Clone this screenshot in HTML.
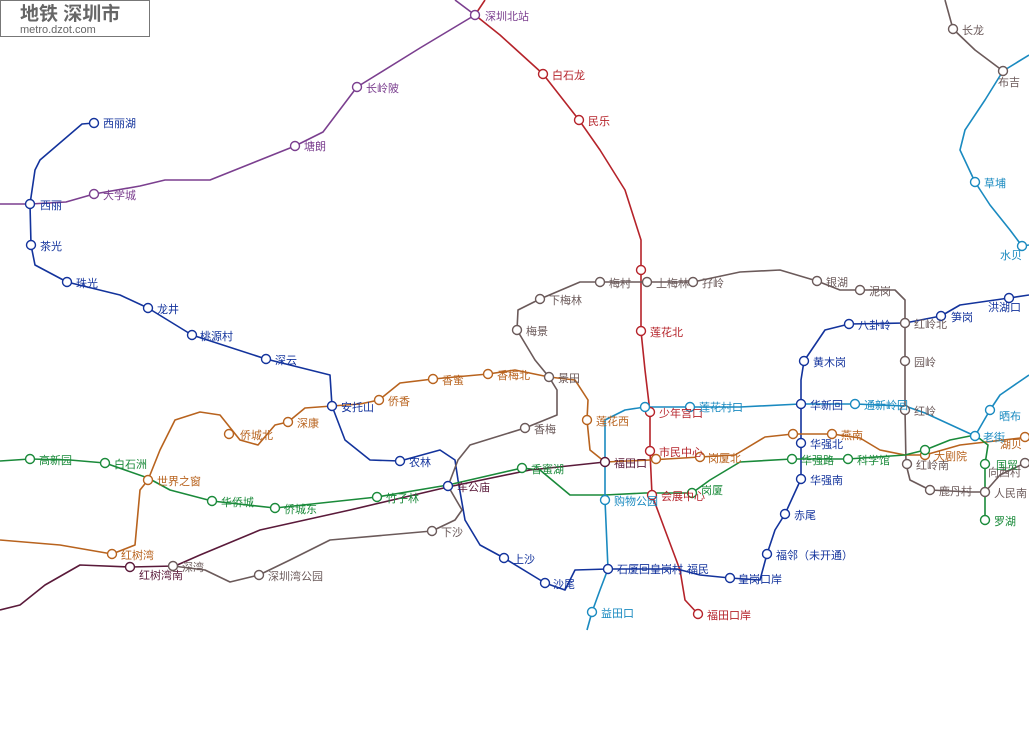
<!DOCTYPE html>
<html><head><meta charset="utf-8"><style>
body{margin:0;background:#fff;width:1029px;height:736px;overflow:hidden}
svg text{font-family:"Liberation Sans","Noto Sans CJK SC",sans-serif;font-size:11px}
</style></head><body>
<svg width="1029" height="736" xmlns="http://www.w3.org/2000/svg">
<rect x="0.5" y="0.5" width="149" height="36" fill="#fff" stroke="#777"/>
<text x="20" y="20" style="font-size:19px;font-weight:bold" fill="#666">地铁 深圳市</text>
<text x="20" y="33" style="font-size:11px" fill="#666">metro.dzot.com</text>
<g fill="none" stroke-width="1.6" stroke-linejoin="round">
<!-- purple -->
<polyline stroke="#7b3f8f" points="0,204 30,204 66,202 94,194 140,186 165,180 210,180 295,146 323,132 357,87 420,48 475,15 455,0"/>
<!-- red -->
<polyline stroke="#b5232a" points="485,0 475,15 500,35 543,74 579,120 600,150 625,190 641,240 641,270 641,331 645,370 650,412 650,451 652,495 665,530 680,570 685,600 698,614"/>
<!-- navy -->
<polyline stroke="#13339c" points="94,123 82,124 40,160 35,170 30,204 31,245 35,265 67,282 120,295 148,308 192,335 266,359 330,375 332,406 345,440 370,460 400,461 440,450 455,460 458,480 465,520 480,545 504,558 545,583 565,590 575,570 608,569 677,569 700,575 730,578 760,580 767,554 775,530 785,514 801,479 801,443 801,404 801,380 804,361 825,330 849,324 905,323"/>
<polyline stroke="#13339c" points="905,323 941,316 960,305 1009,298 1029,295"/>
<!-- grey -->
<polyline stroke="#6b5a5a" points="517,330 518,310 540,299 580,282 600,282 647,282 693,282 740,272 780,270 817,281 840,290 860,290 895,290 905,300 905,323 905,361 905,410 906,464 910,480 930,490 970,492 985,492 1000,475 1025,463"/>
<polyline stroke="#6b5a5a" points="517,330 535,360 549,377 557,390 557,415 525,428 470,445 458,460 448,486 462,510 455,520 432,531 330,540 290,560 259,575 230,582 205,570 173,566"/>
<!-- orange -->
<polyline stroke="#b8631e" points="0,540 60,545 112,554 135,545 140,490 148,480 160,450 175,420 200,412 220,415 240,440 258,445 275,425 288,422 305,408 332,406 360,404 379,400 400,383 433,379 488,374 515,370 549,377 575,380 588,400 587,420 590,450 605,462 650,460 700,457 735,455 765,437 793,434 832,434 860,438 880,450 905,455 925,455 960,445 1029,437"/>
<!-- green -->
<polyline stroke="#1a8a3a" points="0,461 30,459 70,460 105,463 148,478 170,490 212,501 275,508 377,497 448,485 522,468 540,470 570,495 605,495 645,493 692,493 710,480 740,462 792,459 848,459 905,455 925,450 950,440 975,435 988,445 985,464 985,520"/>
<!-- maroon -->
<polyline stroke="#5a1a3a" points="0,610 20,605 45,585 80,565 130,567 175,566 200,555 260,530 350,510 448,487 530,470 605,462"/>
<!-- cyan -->
<polyline stroke="#1a8ac0" points="587,630 592,612 600,590 608,569 605,500 605,420 625,410 645,407 690,407 740,407 800,404 855,404 905,406 925,413 975,436 990,410 1000,395 1029,375"/>
<polyline stroke="#1a8ac0" points="1029,55 1003,71 985,100 965,130 960,150 975,182 990,205 1010,230 1022,246 1029,245"/>
<polyline stroke="#6b5a5a" points="945,0 953,29 975,50 1003,71"/>
</g>
<g fill="#fff" stroke-width="1.4">
<g stroke="#7b3f8f"><circle cx="94" cy="194" r="4.5"/><circle cx="295" cy="146" r="4.5"/><circle cx="357" cy="87" r="4.5"/><circle cx="475" cy="15" r="4.5"/></g>
<g stroke="#b5232a"><circle cx="543" cy="74" r="4.5"/><circle cx="579" cy="120" r="4.5"/><circle cx="641" cy="270" r="4.5"/><circle cx="641" cy="331" r="4.5"/><circle cx="650" cy="412" r="4.5"/><circle cx="650" cy="451" r="4.5"/><circle cx="652" cy="495" r="4.5"/><circle cx="698" cy="614" r="4.5"/></g>
<g stroke="#13339c"><circle cx="94" cy="123" r="4.5"/><circle cx="30" cy="204" r="4.5"/><circle cx="31" cy="245" r="4.5"/><circle cx="67" cy="282" r="4.5"/><circle cx="148" cy="308" r="4.5"/><circle cx="192" cy="335" r="4.5"/><circle cx="266" cy="359" r="4.5"/><circle cx="332" cy="406" r="4.5"/><circle cx="400" cy="461" r="4.5"/><circle cx="448" cy="486" r="4.5"/><circle cx="504" cy="558" r="4.5"/><circle cx="545" cy="583" r="4.5"/><circle cx="608" cy="569" r="4.5"/><circle cx="730" cy="578" r="4.5"/><circle cx="767" cy="554" r="4.5"/><circle cx="785" cy="514" r="4.5"/><circle cx="801" cy="479" r="4.5"/><circle cx="801" cy="443" r="4.5"/><circle cx="801" cy="404" r="4.5"/><circle cx="804" cy="361" r="4.5"/><circle cx="849" cy="324" r="4.5"/><circle cx="941" cy="316" r="4.5"/><circle cx="1009" cy="298" r="4.5"/></g>
<g stroke="#6b5a5a"><circle cx="517" cy="330" r="4.5"/><circle cx="540" cy="299" r="4.5"/><circle cx="600" cy="282" r="4.5"/><circle cx="647" cy="282" r="4.5"/><circle cx="693" cy="282" r="4.5"/><circle cx="817" cy="281" r="4.5"/><circle cx="860" cy="290" r="4.5"/><circle cx="905" cy="323" r="4.5"/><circle cx="905" cy="361" r="4.5"/><circle cx="905" cy="410" r="4.5"/><circle cx="907" cy="464" r="4.5"/><circle cx="930" cy="490" r="4.5"/><circle cx="985" cy="492" r="4.5"/><circle cx="1025" cy="463" r="4.5"/><circle cx="549" cy="377" r="4.5"/><circle cx="525" cy="428" r="4.5"/><circle cx="432" cy="531" r="4.5"/><circle cx="259" cy="575" r="4.5"/><circle cx="173" cy="566" r="4.5"/><circle cx="953" cy="29" r="4.5"/><circle cx="1003" cy="71" r="4.5"/></g>
<g stroke="#b8631e"><circle cx="112" cy="554" r="4.5"/><circle cx="148" cy="480" r="4.5"/><circle cx="229" cy="434" r="4.5"/><circle cx="288" cy="422" r="4.5"/><circle cx="379" cy="400" r="4.5"/><circle cx="433" cy="379" r="4.5"/><circle cx="488" cy="374" r="4.5"/><circle cx="587" cy="420" r="4.5"/><circle cx="656" cy="459" r="4.5"/><circle cx="700" cy="457" r="4.5"/><circle cx="793" cy="434" r="4.5"/><circle cx="832" cy="434" r="4.5"/><circle cx="925" cy="455" r="4.5"/><circle cx="1025" cy="437" r="4.5"/></g>
<g stroke="#1a8a3a"><circle cx="30" cy="459" r="4.5"/><circle cx="105" cy="463" r="4.5"/><circle cx="212" cy="501" r="4.5"/><circle cx="275" cy="508" r="4.5"/><circle cx="377" cy="497" r="4.5"/><circle cx="522" cy="468" r="4.5"/><circle cx="692" cy="493" r="4.5"/><circle cx="792" cy="459" r="4.5"/><circle cx="848" cy="459" r="4.5"/><circle cx="925" cy="450" r="4.5"/><circle cx="985" cy="464" r="4.5"/><circle cx="985" cy="520" r="4.5"/></g>
<g stroke="#5a1a3a"><circle cx="130" cy="567" r="4.5"/><circle cx="605" cy="462" r="4.5"/></g>
<g stroke="#1a8ac0"><circle cx="592" cy="612" r="4.5"/><circle cx="605" cy="500" r="4.5"/><circle cx="645" cy="407" r="4.5"/><circle cx="690" cy="407" r="4.5"/><circle cx="855" cy="404" r="4.5"/><circle cx="975" cy="436" r="4.5"/><circle cx="990" cy="410" r="4.5"/><circle cx="975" cy="182" r="4.5"/><circle cx="1022" cy="246" r="4.5"/></g>
</g>
<g fill="#7b3f8f"><text x="103" y="199">大学城</text><text x="304" y="150">塘朗</text><text x="366" y="92">长岭陂</text><text x="485" y="20">深圳北站</text></g>
<g fill="#b5232a"><text x="552" y="79">白石龙</text><text x="588" y="125">民乐</text><text x="650" y="336">莲花北</text><text x="659" y="417">少年宫口</text><text x="659" y="456">市民中心</text><text x="661" y="500">会展中心</text><text x="707" y="619">福田口岸</text></g>
<g fill="#13339c"><text x="103" y="127">西丽湖</text><text x="40" y="209">西丽</text><text x="40" y="250">茶光</text><text x="76" y="287">珠光</text><text x="157" y="313">龙井</text><text x="200" y="340">桃源村</text><text x="275" y="364">深云</text><text x="341" y="411">安托山</text><text x="409" y="466">农林</text><text x="513" y="563">上沙</text><text x="553" y="588">沙尾</text><text x="617" y="573">石厦回皇岗村</text><text x="687" y="573">福民</text><text x="738" y="583">皇岗口岸</text><text x="776" y="559">福邻（未开通）</text><text x="794" y="519">赤尾</text><text x="810" y="484">华强南</text><text x="810" y="448">华强北</text><text x="810" y="409">华新回</text><text x="813" y="366">黄木岗</text><text x="858" y="329">八卦岭</text><text x="951" y="321">笋岗</text><text x="988" y="311">洪湖口</text></g>
<g fill="#6b5a5a"><text x="526" y="335">梅景</text><text x="549" y="304">下梅林</text><text x="609" y="287">梅村</text><text x="656" y="287">上梅林</text><text x="702" y="287">孖岭</text><text x="826" y="286">银湖</text><text x="869" y="295">泥岗</text><text x="914" y="328">红岭北</text><text x="914" y="366">园岭</text><text x="914" y="415">红岭</text><text x="916" y="469">红岭南</text><text x="939" y="495">鹿丹村</text><text x="994" y="497">人民南</text><text x="988" y="476">向西村</text><text x="558" y="382">景田</text><text x="534" y="433">香梅</text><text x="441" y="536">下沙</text><text x="268" y="580">深圳湾公园</text><text x="182" y="571">深湾</text><text x="962" y="34">长龙</text><text x="998" y="86">布吉</text></g>
<g fill="#b8631e"><text x="121" y="559">红树湾</text><text x="157" y="485">世界之窗</text><text x="240" y="439">侨城北</text><text x="297" y="427">深康</text><text x="388" y="405">侨香</text><text x="442" y="384">香蜜</text><text x="497" y="379">香梅北</text><text x="596" y="425">莲花西</text><text x="708" y="462">岗厦北</text><text x="841" y="439">燕南</text><text x="934" y="460">大剧院</text><text x="1000" y="448">湖贝</text></g>
<g fill="#1a8a3a"><text x="39" y="464">高新园</text><text x="114" y="468">白石洲</text><text x="221" y="506">华侨城</text><text x="284" y="513">侨城东</text><text x="386" y="502">竹子林</text><text x="531" y="473">香蜜湖</text><text x="701" y="494">岗厦</text><text x="801" y="464">华强路</text><text x="857" y="464">科学馆</text><text x="996" y="469">国贸</text><text x="994" y="525">罗湖</text></g>
<g fill="#5a1a3a"><text x="139" y="579">红树湾南</text><text x="457" y="491">车公庙</text><text x="614" y="467">福田口</text></g>
<g fill="#1a8ac0"><text x="601" y="617">益田口</text><text x="614" y="505">购物公园</text><text x="699" y="411">莲花村口</text><text x="864" y="409">通新岭回</text><text x="983" y="441">老街</text><text x="999" y="420">晒布</text><text x="984" y="187">草埔</text><text x="1000" y="259">水贝</text></g>
</svg>
</body></html>
